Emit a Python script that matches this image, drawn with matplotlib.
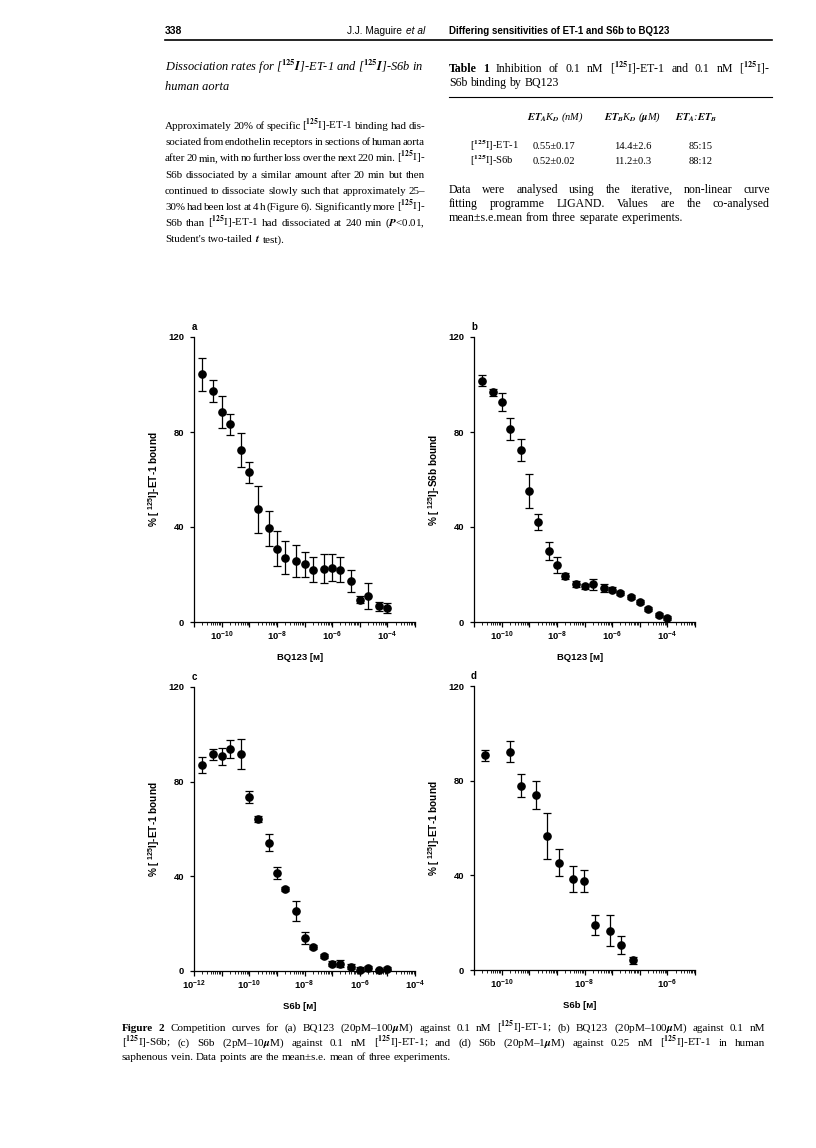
import numpy as np
import matplotlib
matplotlib.use('Agg')
import matplotlib.pyplot as plt
from matplotlib.ticker import LogLocator, NullFormatter

# valores (media y e.s.m.)
conc_ab = [2e-11, 5e-11, 1e-10, 2e-10, 5e-10, 1e-9, 2e-9, 5e-9, 1e-8, 2e-8, 5e-8,
           1e-7, 2e-7, 5e-7, 1e-6, 2e-6, 5e-6, 1e-5, 2e-5, 5e-5, 1e-4]
a_y = [104.3, 97.1, 88.3, 83.2, 72.3, 63.0, 47.4, 39.4, 30.9, 27.1, 25.7,
       24.3, 22.0, 22.5, 22.9, 22.0, 17.3, 9.4, 10.8, 6.6, 6.0]
a_err = [7.0, 4.6, 6.8, 4.4, 7.2, 4.3, 10.0, 7.3, 7.4, 7.0, 6.9,
         5.3, 5.3, 6.0, 5.6, 5.3, 4.7, 1.5, 5.5, 2.0, 2.0]
b_y = [101.6, 96.8, 92.6, 81.3, 72.3, 55.2, 42.1, 29.9, 23.9, 19.2, 16.1,
       15.0, 15.9, 14.3, 13.6, 12.2, 10.5, 8.4, 5.5, 3.1, 1.7]
b_err = [2.4, 1.5, 3.9, 4.6, 4.7, 7.0, 3.3, 3.7, 3.3, 1.3, 1.3,
         1.0, 2.3, 1.5, 1.0, 0.8, 0.8, 0.8, 1.0, 0.8, 0.8]

conc_c = [2e-12, 5e-12, 1e-11, 2e-11, 5e-11, 1e-10, 2e-10, 5e-10, 1e-9, 2e-9, 5e-9,
          1e-8, 2e-8, 5e-8, 1e-7, 2e-7, 5e-7, 1e-6, 2e-6, 5e-6, 1e-5]
c_y = [87.2, 91.5, 90.7, 93.8, 91.8, 73.4, 64.2, 54.2, 41.3, 34.5, 25.4,
       14.1, 10.1, 6.3, 3.1, 3.1, 1.8, 0.6, 1.1, 0.3, 1.0]
c_err = [3.4, 2.3, 3.6, 4.0, 6.4, 2.6, 1.3, 3.7, 2.5, 0.8, 4.2,
         2.5, 0.7, 1.0, 1.0, 1.5, 1.0, 1.0, 1.2, 0.7, 0.7]

# panel d: exponentes tal como caen respecto a las etiquetas del eje
exp_d = [-10.41, -9.80, -9.53, -9.17, -8.90, -8.62, -8.28, -8.02, -7.74, -7.39, -7.12, -6.84]
d_y = [90.7, 92.3, 77.9, 73.9, 56.6, 45.4, 38.3, 37.6, 18.9, 16.6, 10.6, 4.2]
d_err = [2.2, 4.3, 5.0, 6.0, 9.6, 5.8, 5.5, 4.5, 4.3, 6.5, 3.8, 1.5]

W, H = 816, 1148

plt.rcParams['font.family'] = ['Liberation Sans', 'DejaVu Sans']
plt.rcParams['font.weight'] = 'bold'
plt.rcParams['mathtext.fontset'] = 'custom'
plt.rcParams['mathtext.rm'] = 'Liberation Sans:bold'
plt.rcParams['mathtext.it'] = 'Liberation Sans:italic:bold'
plt.rcParams['mathtext.bf'] = 'Liberation Sans:bold'

fig = plt.figure(figsize=(W / 100, H / 100), dpi=100)
fig.patch.set_facecolor('white')
rend = fig.canvas.get_renderer()

SERIF = ['Liberation Serif', 'DejaVu Serif']


def texto(x, y, s, **kw):
    kw.setdefault('family', SERIF)
    kw.setdefault('fontweight', 'normal')
    kw.setdefault('math_fontfamily', 'stix')
    return fig.text(x / W, 1 - y / H, s, va='baseline', **kw)


def linea(x0, x1, y, s, justificar=True, **kw):
    palabras = s.split(' ')
    estilos = []
    anchos = []
    for p in palabras:
        peso = 'normal'
        if p.startswith('*'):
            p = p[1:]
            peso = 'bold'
        t = texto(0, 0, p, fontweight=peso, **kw)
        anchos.append(t.get_window_extent(renderer=rend).width)
        t.remove()
        estilos.append((p, peso))
    if justificar and len(palabras) > 1:
        hueco = (x1 - x0 - sum(anchos)) / (len(palabras) - 1)
    else:
        hueco = kw.get('fontsize', 8) * 100 / 72 * 0.25
    x = x0
    for (p, peso), w in zip(estilos, anchos):
        texto(x, y, p, fontweight=peso, **kw)
        x += w + hueco


# cabecera de la pagina
SANS_N = ['Liberation Sans Narrow', 'Liberation Sans']
fig.text(165 / W, 1 - 34 / H, '338', fontsize=7.5, fontweight='bold', va='baseline')
fig.text(402 / W, 1 - 34 / H, 'J.J. Maguire', fontsize=7.3, fontweight='normal',
         va='baseline', ha='right', family=SANS_N)
fig.text(425 / W, 1 - 34 / H, 'et al', fontsize=7.3, fontweight='normal', fontstyle='italic',
         va='baseline', ha='right', family=SANS_N)
fig.text(449 / W, 1 - 34 / H, 'Differing sensitivities of ET-1 and S6b to BQ123', fontsize=7.0,
         fontweight='bold', va='baseline', family=SANS_N)
fig.add_artist(plt.Line2D([165 / W, 772 / W], [1 - 40 / H, 1 - 40 / H], color='black', lw=1.2))

# columna izquierda
texto(165, 71, 'Dissociation rates for [$^{125}$$I$]-ET-1 and [$^{125}$$I$]-S6b in',
      fontsize=8.9, fontstyle='italic')
texto(165, 90, 'human aorta', fontsize=8.9, fontstyle='italic')

parrafo = [
    'Approximately 20% of specific [$^{125}$I]-ET-1 binding had dis-',
    'sociated from endothelin receptors in sections of human aorta',
    'after 20 min, with no further loss over the next 220 min. [$^{125}$I]-',
    'S6b dissociated by a similar amount after 20 min but then',
    'continued to dissociate slowly such that approximately 25–',
    '30% had been lost at 4 h (Figure 6). Significantly more [$^{125}$I]-',
    'S6b than [$^{125}$I]-ET-1 had dissociated at 240 min ($P$<0.01,',
    "Student's two-tailed $t$ test).",
]
for i, s in enumerate(parrafo):
    linea(165, 425, 129 + i * 16.2, s, justificar=(i < len(parrafo) - 1), fontsize=7.9)

# columna derecha: tabla 1
linea(449, 770, 72, '*Table *1 Inhibition of 0.1 nM [$^{125}$I]-ET-1 and 0.1 nM [$^{125}$I]-', fontsize=8.6)
linea(449, 770, 86, 'S6b binding by BQ123', justificar=False, fontsize=8.6)
fig.add_artist(plt.Line2D([449 / W, 772 / W], [1 - 97 / H, 1 - 97 / H], color='black', lw=0.8))
texto(527, 120, '$ET_A$K$_D$ (nM)', fontsize=7.5, fontstyle='italic')
texto(604, 120, '$ET_B$K$_D$ ($\\mu$M)', fontsize=7.5, fontstyle='italic')
texto(675, 120, '$ET_A$:$ET_B$', fontsize=7.5, fontstyle='italic')
filas = [('[$^{125}$I]-ET-1', '0.55±0.17', '14.4±2.6', '85:15'),
         ('[$^{125}$I]-S6b', '0.52±0.02', '11.2±0.3', '88:12')]
for j, fila in enumerate(filas):
    yy = 149 + j * 15.5
    for xx, s in zip([470, 533, 614, 689], fila):
        texto(xx, yy, s, fontsize=7.6)
notas = ['Data were analysed using the iterative, non-linear curve',
         'fitting programme LIGAND. Values are the co-analysed',
         'mean±s.e.mean from three separate experiments.']
for i, s in enumerate(notas):
    linea(449, 770, 193 + i * 14, s, justificar=(i < 2), fontsize=8.6)

# pie de figura
pie = ['*Figure *2 Competition curves for (a) BQ123 (20pM–100$\\mu$M) against 0.1 nM [$^{125}$I]-ET-1; (b) BQ123 (20pM–100$\\mu$M) against 0.1 nM',
       '[$^{125}$I]-S6b; (c) S6b (2pM–10$\\mu$M) against 0.1 nM [$^{125}$I]-ET-1; and (d) S6b (20pM–1$\\mu$M) against 0.25 nM [$^{125}$I]-ET-1 in human',
       'saphenous vein. Data points are the mean±s.e. mean of three experiments.']
for i, s in enumerate(pie):
    linea(122, 765, 1031 + i * 14.5, s, justificar=(i < 2), fontsize=8.0)


# paneles
def panel(px0, px1, py_top, py_bot):
    return fig.add_axes([px0 / W, 1 - py_bot / H, (px1 - px0) / W, (py_bot - py_top) / H])


def estilo(ax, letra, etiqueta_y, etiqueta_x):
    for lado in ['top', 'right']:
        ax.spines[lado].set_visible(False)
    for lado in ['left', 'bottom']:
        ax.spines[lado].set_linewidth(0.9)
    ax.set_ylim(0, 120)
    ax.set_yticks([0, 40, 80, 120])
    ax.tick_params(axis='y', length=3.2, width=0.9, pad=4, labelsize=6.8)
    ax.tick_params(axis='x', which='major', length=3.5, width=0.9, pad=2, labelsize=6.8)
    ax.tick_params(axis='x', which='minor', length=2.2, width=0.6)
    ax.set_ylabel(etiqueta_y, fontsize=7.2, fontweight='bold')
    ax.yaxis.set_label_coords(-0.145, 0.5)
    ax.set_xlabel(etiqueta_x, fontsize=6.8, fontweight='bold')
    ax.xaxis.set_label_coords(0.48, -0.11)
    ax.text(0.0, 1.035, letra, transform=ax.transAxes, fontsize=7, fontweight='bold',
            ha='center', va='center')
    ax.patch.set_alpha(0)


def eje_log(ax, e0, e1):
    ax.set_xscale('log')
    ax.set_xlim(10.0 ** e0, 10.0 ** e1)
    exps = list(range(e0, e1 + 1))
    ax.set_xticks([10.0 ** k for k in exps],
                  labels=['$10^{%d}$' % k if k % 2 == 0 else '' for k in exps])
    ax.xaxis.set_minor_locator(LogLocator(base=10, subs=np.arange(2, 10), numticks=30))
    ax.xaxis.set_minor_formatter(NullFormatter())


def puntos(ax, x, y, e):
    ax.errorbar(x, y, yerr=e, fmt='o', color='black', ms=5.2, capsize=3,
                elinewidth=0.9, capthick=0.9, clip_on=False)


ax_a = panel(194, 415, 337, 622)
eje_log(ax_a, -11, -3)
puntos(ax_a, conc_ab, a_y, a_err)
estilo(ax_a, 'a', '% [ $^{125}$I]-ET-1 bound', 'BQ123 [ᴍ]')

ax_b = panel(474, 695, 337, 622)
eje_log(ax_b, -11, -3)
puntos(ax_b, conc_ab, b_y, b_err)
estilo(ax_b, 'b', '% [ $^{125}$I]-S6b bound', 'BQ123 [ᴍ]')

ax_c = panel(194, 415, 687, 971)
eje_log(ax_c, -12, -4)
puntos(ax_c, conc_c, c_y, c_err)
estilo(ax_c, 'c', '% [ $^{125}$I]-ET-1 bound', 'S6b [ᴍ]')

# panel d: marcas mayores cada 2/3 de decada, como en el original
ax_d = panel(474, 695, 686, 970)
ax_d.set_xscale('log')
e0 = -32 / 3
ax_d.set_xlim(10 ** e0, 10 ** (e0 + 16 / 3))
mayores = [e0 + k * 2 / 3 for k in range(9)]
ax_d.set_xticks([10 ** m for m in mayores],
                labels=['', '$10^{-10}$', '', '', '$10^{-8}$', '', '', '$10^{-6}$', ''])
menores = [e0 + k * 2 / 3 + (2 / 3) * np.log10(s) for k in range(8) for s in range(2, 10)]
ax_d.set_xticks([10 ** m for m in menores], minor=True)
ax_d.xaxis.set_minor_formatter(NullFormatter())
puntos(ax_d, [10 ** v for v in exp_d], d_y, d_err)
estilo(ax_d, 'd', '% [ $^{125}$I]-ET-1 bound', 'S6b [ᴍ]')

fig.savefig('out.png', dpi=100, facecolor='white')
